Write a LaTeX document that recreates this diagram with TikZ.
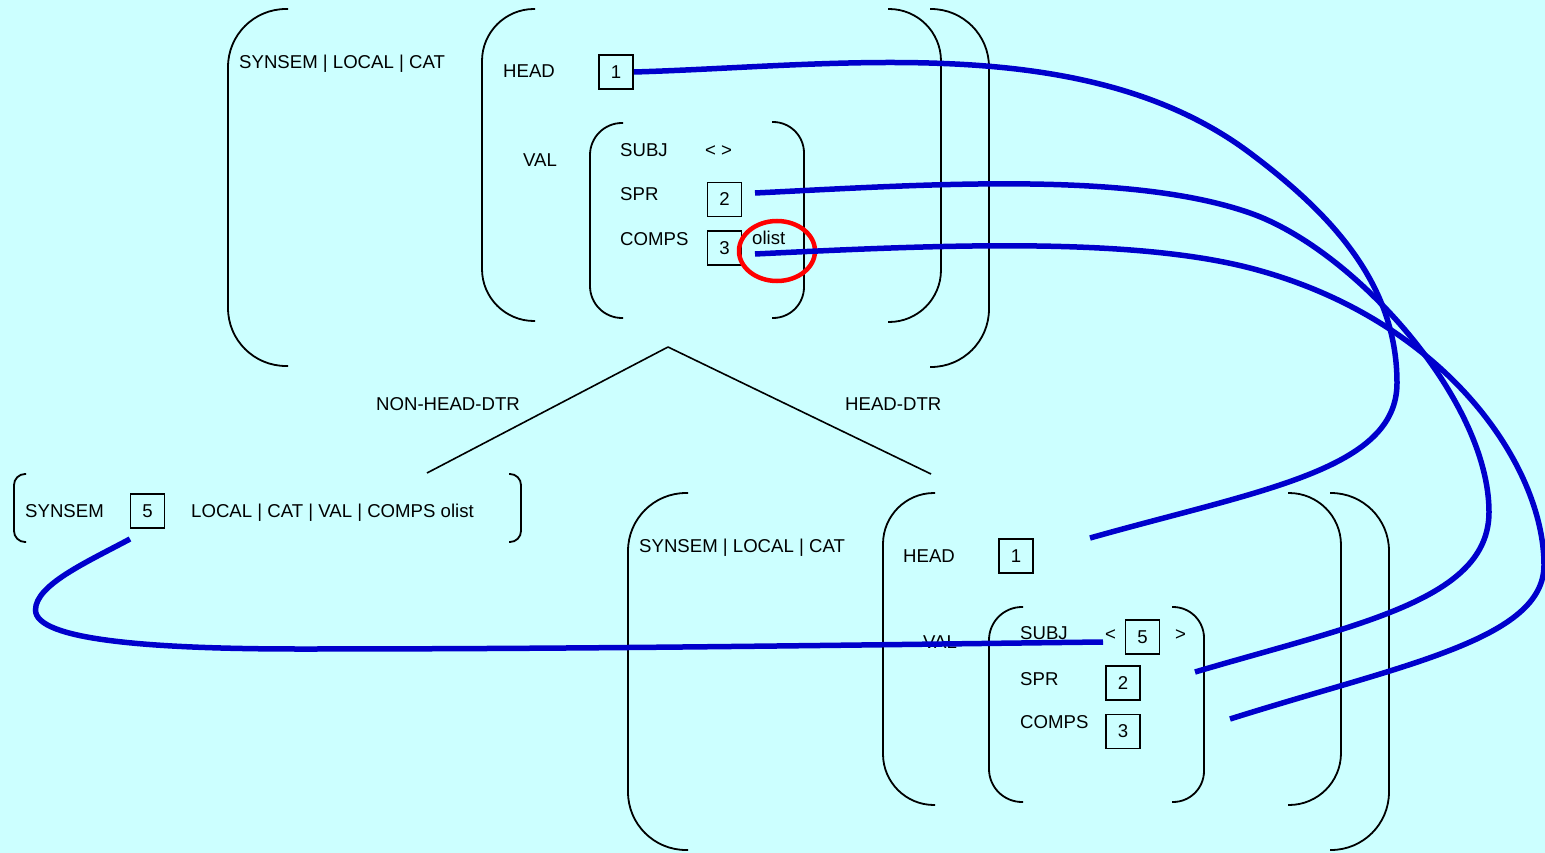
\documentclass[tikz,border=0pt]{standalone}
\usepackage{fontspec}
\setmainfont{Liberation Sans}
\definecolor{bg}{HTML}{CCFFFF}
\definecolor{linkblue}{HTML}{0000CC}
\begin{document}
\begin{tikzpicture}[x=1pt,y=-1pt,
  font=\fontsize{18.6}{22}\selectfont,
  lbl/.style={anchor=base west, inner sep=0pt},
  tag/.style={draw, line width=1.8pt, minimum size=34pt, inner sep=0pt},
  brk/.style={line width=1.8pt},
  link/.style={draw=linkblue, line width=5.5pt},
  treeline/.style={line width=1.6pt},
  oval/.style={draw=red, line width=4.5pt}]
\fill[bg] (0,0) rectangle (1545,853);
\useasboundingbox (0,0) rectangle (1545,853);

% ---------- top AVM brackets ----------
\draw[brk, rounded corners=58pt] (288,9) -- (228,9) -- (228,366) -- (288,366);
\draw[brk, rounded corners=52pt] (535,9) -- (482,9) -- (482,321) -- (535,321);
\draw[brk, rounded corners=32pt] (623,123) -- (590,123) -- (590,318) -- (623,318);
\draw[brk, rounded corners=31pt] (772,122) -- (804,122) -- (804,318) -- (772,318);
\draw[brk, rounded corners=52pt] (888,9) -- (941,9) -- (941,322) -- (888,322);
\draw[brk, rounded corners=58pt] (930,9) -- (989,9) -- (989,367) -- (930,367);

% ---------- top AVM text ----------
\node[lbl] (tsyn) at (239,69) {SYNSEM | LOCAL | CAT};
\node[lbl] (thead) at (503,78) {HEAD};
\node[lbl] (tval) at (523,167) {VAL};
\node[lbl] (tsubj) at (620,157) {SUBJ};
\node[lbl] (tsubjv) at (705,157) {< >};
\node[lbl] (tspr) at (620,201) {SPR};
\node[lbl] (tcomps) at (620,246) {COMPS};
\node[lbl] (tolist) at (752,245) {olist};
\node[tag] (t1) at (616,72) {1};
\node[tag] (t2) at (724.5,199.5) {2};
\node[tag] (t3) at (724.5,248) {3};

% ---------- tree ----------
\coordinate (apex) at (668,347);
\coordinate (ndtr) at (427,473);
\coordinate (hdtr) at (931,474);
\draw[treeline] (apex) -- (ndtr);
\draw[treeline] (apex) -- (hdtr);
\node[lbl] (nhdlbl) at (376,410) {NON-HEAD-DTR};
\node[lbl] (hdlbl) at (845,410) {HEAD-DTR};

% ---------- non-head daughter ----------
\draw[brk, rounded corners=11pt] (26,474) -- (14,474) -- (14,542) -- (26,542);
\draw[brk, rounded corners=11pt] (509,474) -- (521,474) -- (521,542) -- (509,542);
\node[lbl] (nsyn) at (25,517) {SYNSEM};
\node[tag] (s5) at (147.5,511) {5};
\node[lbl] (nloc) at (191,517) {LOCAL | CAT | VAL | COMPS olist};

% ---------- head daughter brackets ----------
\draw[brk, rounded corners=58pt] (688,493) -- (628,493) -- (628,850) -- (688,850);
\draw[brk, rounded corners=51pt] (935,493) -- (883,493) -- (883,805) -- (935,805);
\draw[brk, rounded corners=33pt] (1023,607) -- (989,607) -- (989,802) -- (1023,802);
\draw[brk, rounded corners=31pt] (1172,607) -- (1204,607) -- (1204,802) -- (1172,802);
\draw[brk, rounded corners=52pt] (1288,493) -- (1341,493) -- (1341,805) -- (1288,805);
\draw[brk, rounded corners=58pt] (1330,493) -- (1389,493) -- (1389,850) -- (1330,850);

% ---------- head daughter text ----------
\node[lbl] (bsyn) at (639,552) {SYNSEM | LOCAL | CAT};
\node[lbl] (bhead) at (903,562) {HEAD};
\node[lbl] (bval) at (923,648) {VAL};
\node[lbl] (bsubj) at (1020,639) {SUBJ};
\node[lbl] (blt) at (1105,640) {<};
\node[lbl] (bgt) at (1175,640) {>};
\node[lbl] (bspr) at (1020,685) {SPR};
\node[lbl] (bcomps) at (1020,728) {COMPS};
\node[tag] (b1) at (1016,556) {1};
\node[tag] (b5) at (1142.5,637) {5};
\node[tag] (b2) at (1123,683) {2};
\node[tag] (b3) at (1123,731.5) {3};

% ---------- red highlight ----------
\draw[oval] (777,251) ellipse [x radius=38pt, y radius=30pt];

% ---------- structure-sharing links ----------
\coordinate (eA) at (1090,538);
\coordinate (sB) at (755,193);
\coordinate (eB) at (1195,672);
\coordinate (sC) at (755,254);
\coordinate (eC) at (1230,719);
\coordinate (sD) at (130,539);
\coordinate (eD) at (1103,642);

\draw[link] (t1.east) .. controls (839,66) and (1086,30) .. (1250,153)
  .. controls (1330,213) and (1397,283) .. (1397,383)
  .. controls (1397,470) and (1260,490) .. (eA);
\draw[link] (sB) .. controls (920,185) and (1127,170) .. (1250,213)
  .. controls (1354,249.3) and (1489,400) .. (1489,512)
  .. controls (1489,600) and (1358,624) .. (eB);
\draw[link] (sC) .. controls (920,246) and (1124,235.5) .. (1250,268)
  .. controls (1443.6,318) and (1544,465) .. (1544,565)
  .. controls (1544,640) and (1401,665) .. (eC);
\draw[link] (sD) .. controls (86,562.5) and (35.5,585) .. (35.5,610)
  .. controls (35.5,640) and (150,649) .. (300,649)
  .. controls (600,649) and (850,645) .. (eD);
\end{tikzpicture}
\end{document}
